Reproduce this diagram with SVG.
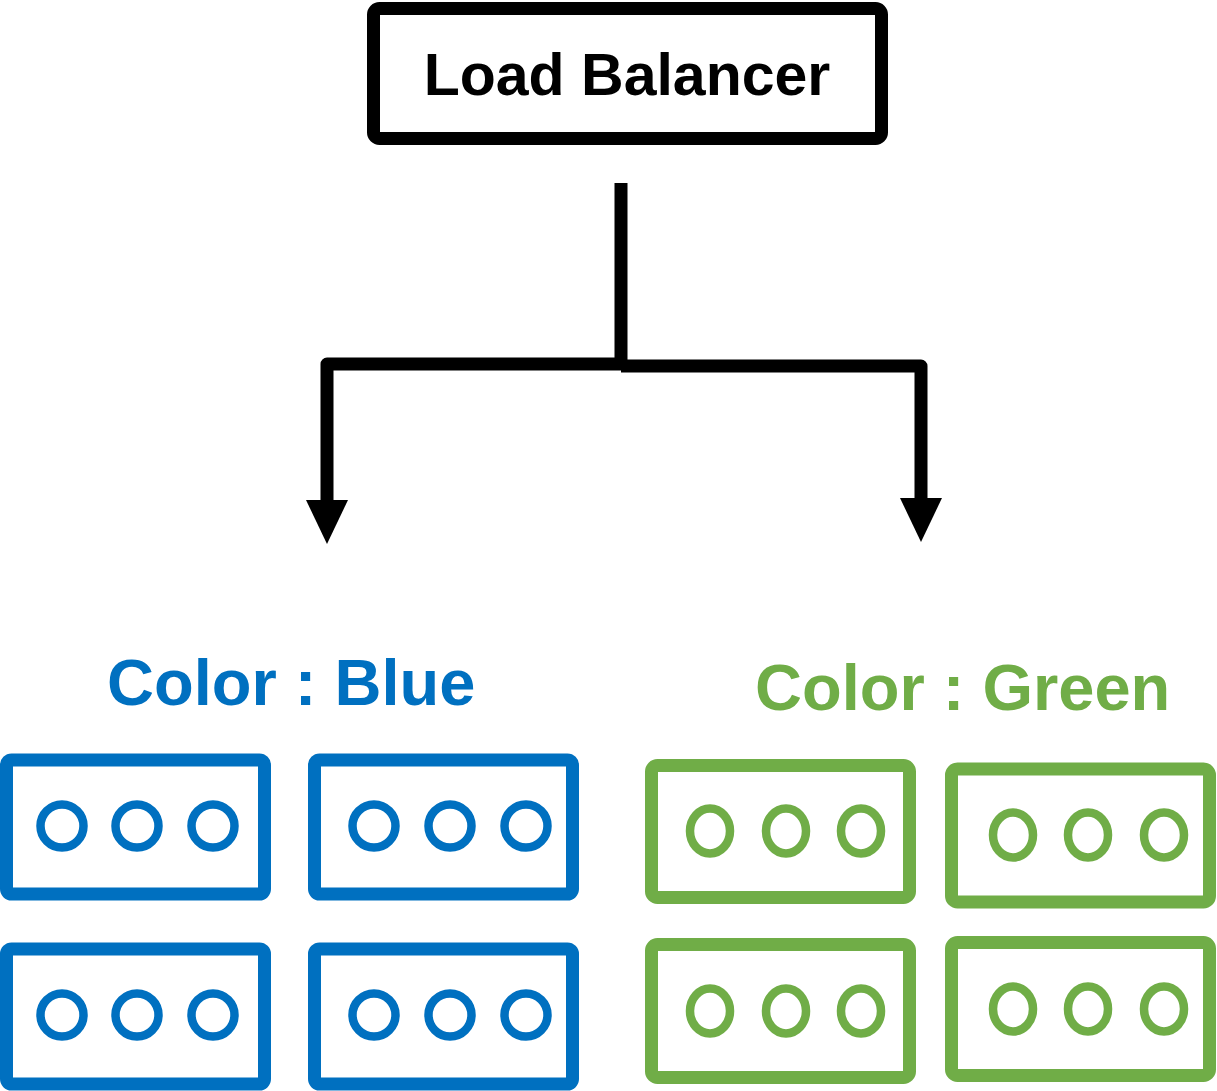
<svg xmlns="http://www.w3.org/2000/svg" width="1217" height="1091" viewBox="0 0 1217 1091">
<style>
.lb{fill:#fff;stroke:#000;stroke-width:13}
.lbt{font-family:"Liberation Sans",Arial,sans-serif;font-weight:bold;font-size:59px;fill:#000;text-anchor:middle}
.wire{fill:none;stroke:#000;stroke-width:13;stroke-linejoin:round}
.head{fill:#000}
.lbl{font-family:"Liberation Sans",Arial,sans-serif;font-weight:bold;font-size:65px}
.bbox{fill:#fff;stroke:#0070C0;stroke-width:13}
.bc{fill:none;stroke:#0070C0;stroke-width:8.5}
.gbox{fill:#fff;stroke:#70AD47;stroke-width:13}
.gc{fill:none;stroke:#70AD47;stroke-width:8.5}
</style>
<rect width="1217" height="1091" fill="#fff"/>
<g id="load-balancer">
<rect class="lb" x="373.5" y="8.5" width="508" height="130" rx="6"/>
<text class="lbt" x="627" y="95">Load Balancer</text>
</g>
<g id="connectors">
<path class="wire" d="M621,183 V365"/>
<path class="wire" d="M327,505 V364 H621"/>
<path class="wire" d="M621,366 H921 V503"/>
<polygon class="head" points="306,500 348,500 327,544"/>
<polygon class="head" points="900,498 942,498 921,542"/>
</g>
<g id="blue-label"><text class="lbl" x="107" y="705" fill="#0070C0">Color : Blue</text></g>
<g id="green-label"><text class="lbl" x="755" y="710" fill="#70AD47">Color : Green</text></g>
<g id="blue-1">
<rect class="bbox" x="6.5" y="760" width="258" height="134" rx="5"/>
<circle class="bc" cx="62" cy="826" r="21.5"/><circle class="bc" cx="137" cy="826" r="21.5"/><circle class="bc" cx="213" cy="826" r="21.5"/>
</g>
<g id="blue-2">
<rect class="bbox" x="314.5" y="760" width="258" height="134" rx="5"/>
<circle class="bc" cx="374" cy="826" r="21.5"/><circle class="bc" cx="450" cy="826" r="21.5"/><circle class="bc" cx="526" cy="826" r="21.5"/>
</g>
<g id="blue-3">
<rect class="bbox" x="6.5" y="949" width="258" height="135" rx="5"/>
<circle class="bc" cx="62" cy="1015" r="21.5"/><circle class="bc" cx="137" cy="1015" r="21.5"/><circle class="bc" cx="213" cy="1015" r="21.5"/>
</g>
<g id="blue-4">
<rect class="bbox" x="314.5" y="949" width="258" height="135" rx="5"/>
<circle class="bc" cx="374" cy="1015" r="21.5"/><circle class="bc" cx="450" cy="1015" r="21.5"/><circle class="bc" cx="526" cy="1015" r="21.5"/>
</g>
<g id="green-1">
<rect class="gbox" x="651.5" y="765.5" width="258" height="132" rx="6"/>
<ellipse class="gc" cx="710" cy="831" rx="20" ry="22.5"/><ellipse class="gc" cx="786" cy="831" rx="20" ry="22.5"/><ellipse class="gc" cx="861" cy="831" rx="20" ry="22.5"/>
</g>
<g id="green-2">
<rect class="gbox" x="951.5" y="769" width="258" height="133" rx="6"/>
<ellipse class="gc" cx="1013" cy="835" rx="20" ry="22.5"/><ellipse class="gc" cx="1088" cy="835" rx="20" ry="22.5"/><ellipse class="gc" cx="1164" cy="835" rx="20" ry="22.5"/>
</g>
<g id="green-3">
<rect class="gbox" x="651.5" y="944.5" width="258" height="133" rx="6"/>
<ellipse class="gc" cx="710" cy="1011" rx="20" ry="22.5"/><ellipse class="gc" cx="786" cy="1011" rx="20" ry="22.5"/><ellipse class="gc" cx="861" cy="1011" rx="20" ry="22.5"/>
</g>
<g id="green-4">
<rect class="gbox" x="951.5" y="942.5" width="258" height="133" rx="6"/>
<ellipse class="gc" cx="1013" cy="1009" rx="20" ry="22.5"/><ellipse class="gc" cx="1088" cy="1009" rx="20" ry="22.5"/><ellipse class="gc" cx="1164" cy="1009" rx="20" ry="22.5"/>
</g>
</svg>
